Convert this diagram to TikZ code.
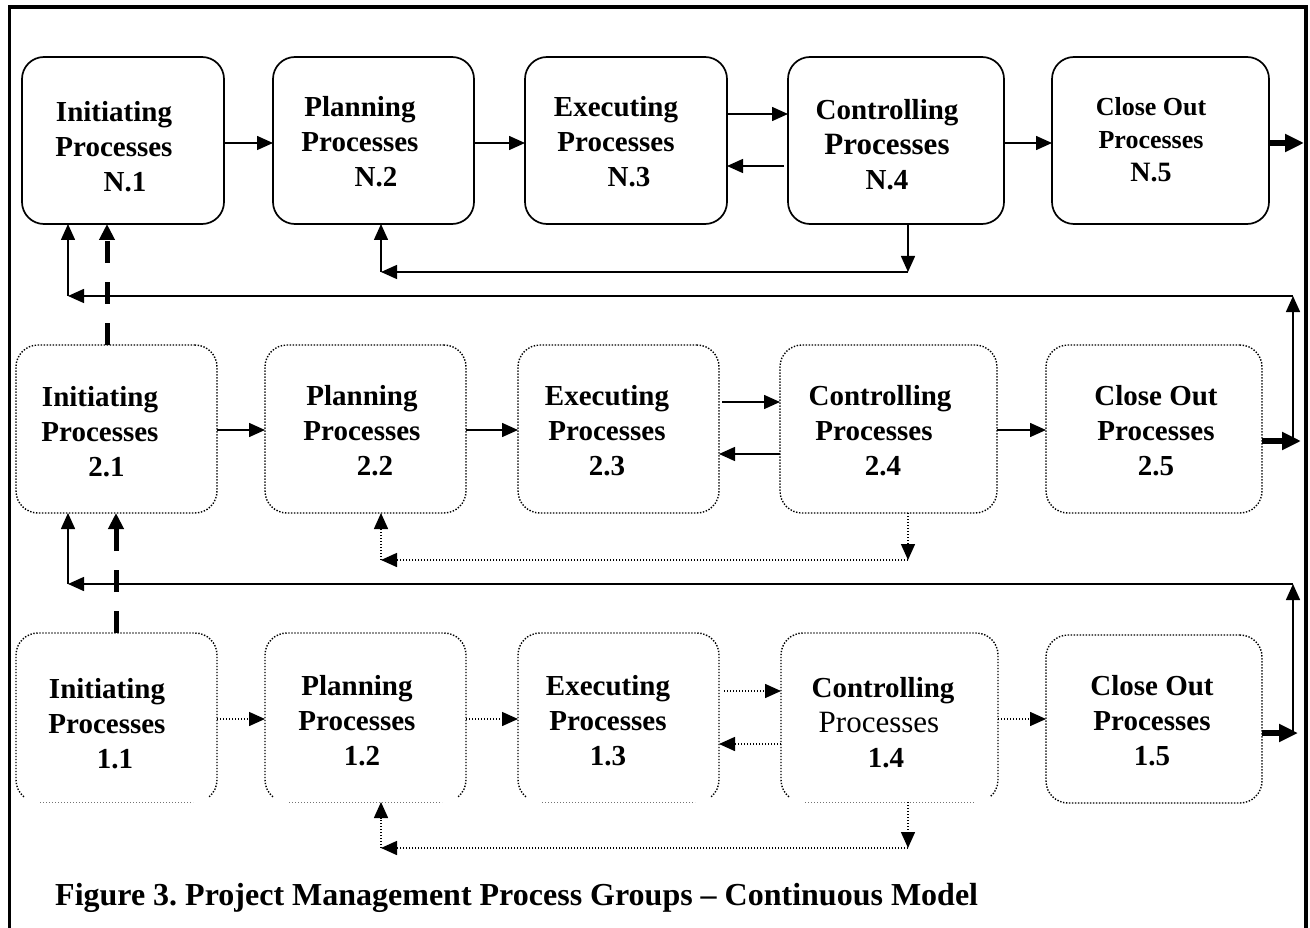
\documentclass[tikz,border=0pt]{standalone}
\usepackage{fontspec}
\setmainfont{Liberation Serif}
\usetikzlibrary{arrows.meta,calc}
\frenchspacing

% bottom-clipped dotted box: the lower corners are only partly drawn
\newcommand\cutbox[1]{%
  \draw[dotline] ($(#1.south west)+(7.9,-5.1)$)
    arc[start angle=130,end angle=180,radius=22]
    -- ($(#1.north west)+(0,22)$)
    arc[start angle=180,end angle=270,radius=22]
    -- ($(#1.north east)+(-22,0)$)
    arc[start angle=270,end angle=360,radius=22]
    -- ($(#1.south east)+(0,-22)$)
    arc[start angle=0,end angle=50,radius=22];
  \draw[faintdot] ($(#1.south west)+(24,0)$) -- ($(#1.south east)+(-24,0)$);}

\begin{document}
\begin{tikzpicture}[x=1pt,y=-1pt,
  solidbox/.style={draw,line width=1.7pt,rounded corners=22pt,inner sep=0pt,outer sep=0pt},
  dotbox/.style={solidbox,line width=1.4pt,dash pattern=on 1.4pt off 1.6pt},
  cutboxnode/.style={inner sep=0pt,outer sep=0pt},
  dotline/.style={line width=1.4pt,dash pattern=on 1.4pt off 1.6pt},
  faintdot/.style={line width=0.9pt,draw=black!55,dash pattern=on 1pt off 2pt},
  % text nodes are placed by the baseline of their last line
  txt/.style={font=\bfseries\fontsize{29}{35}\selectfont,align=center,inner sep=0pt,anchor=base},
  arr/.style={line width=1.5pt,-{Triangle[length=16pt,width=14pt]}},
  dotarr/.style={arr,dash pattern=on 1.4pt off 1.6pt},
  outarr/.style={line width=5.5pt,-{Triangle[length=19pt,width=17pt]}},
  dasharr/.style={line width=5pt,dash pattern=on 22pt off 19pt,-{Triangle[length=16pt,width=15pt]}}
]
\fill[white] (0,0) rectangle (1310,928);
\useasboundingbox (0,0) rectangle (1310,928);

% outer frame (open at the bottom)
\draw[line width=3.5pt] (9.5,928) -- (9.5,7) -- (1306,7) -- (1306,928);

% ---- cycle N ----
\node[solidbox,minimum width=202,minimum height=167] (n1) at (123,140.5) {};
\node[solidbox,minimum width=201,minimum height=167] (n2) at (373.5,140.5) {};
\node[solidbox,minimum width=202,minimum height=167] (n3) at (626,140.5) {};
\node[solidbox,minimum width=216,minimum height=167] (n4) at (896,140.5) {};
\node[solidbox,minimum width=217,minimum height=167] (n5) at (1160.5,140.5) {};

\node[txt] (tn1) at (114,192) {Initiating\\Processes\\\hspace*{22pt}N.1};
\node[txt] (tn2) at (360,187) {Planning\\Processes\\\hspace*{32pt}N.2};
\node[txt] (tn3) at (616,187) {Executing\\Processes\\\hspace*{26pt}N.3};
\node[txt] (tn4) at (887,190) {Controlling\\{\fontsize{31}{36}\selectfont Processes}\\N.4};
\node[txt,font=\bfseries\fontsize{26}{33}\selectfont] (tn5) at (1151,182) {Close Out\\Processes\\{\fontsize{28}{36}\selectfont N.5}};

% ---- cycle 2 ----
\node[dotbox,minimum width=201,minimum height=168] (b21) at (116.5,429) {};
\node[dotbox,minimum width=201,minimum height=168] (b22) at (365.5,429) {};
\node[dotbox,minimum width=201,minimum height=168] (b23) at (618.5,429) {};
\node[dotbox,minimum width=217,minimum height=168] (b24) at (888.5,429) {};
\node[dotbox,minimum width=216,minimum height=168] (b25) at (1154,429) {};

\node[txt] (t21) at (100,476) {Initiating\\Processes\\\hspace*{13pt}2.1};
\node[txt] (t22) at (362,475) {Planning\\Processes\\\hspace*{26pt}2.2};
\node[txt] (t23) at (607,475) {Executing\\Processes\\2.3};
\node[txt] (t24) at (874,475) {\hspace*{12pt}Controlling\\Processes\hspace*{14pt}\\\hspace*{18pt}2.4};
\node[txt] (t25) at (1156,475) {Close Out\\Processes\\2.5};

% ---- cycle 1 ----
\node[cutboxnode,minimum width=201,minimum height=169] (b11) at (116.5,717.5) {};
\node[cutboxnode,minimum width=201,minimum height=169] (b12) at (365.5,717.5) {};
\node[cutboxnode,minimum width=201,minimum height=169] (b13) at (618.5,717.5) {};
\node[cutboxnode,minimum width=217,minimum height=169] (b14) at (889.5,717.5) {};
\node[dotbox,minimum width=216,minimum height=168] (b15) at (1154,719) {};
\cutbox{b11}\cutbox{b12}\cutbox{b13}\cutbox{b14}

\node[txt] (t11) at (107,768) {Initiating\\Processes\\\hspace*{16pt}1.1};
\node[txt] (t12) at (357,765) {Planning\\Processes\\\hspace*{10pt}1.2};
\node[txt] (t13) at (608,765) {Executing\\Processes\\1.3};
\node[txt] (t14) at (879,767) {\hspace*{8pt}Controlling\\{\mdseries\fontsize{31}{36}\selectfont Processes}\hspace*{12pt}\\\hspace*{14pt}1.4};
\node[txt] (t15) at (1152,765) {Close Out\\Processes\\1.5};

% ---- flow within cycle N ----
\draw[arr] (n1.east |- 0,143) -- (n2.west |- 0,143);
\draw[arr] (n2.east |- 0,143) -- (n3.west |- 0,143);
\draw[arr] (n3.east |- 0,114) -- (n4.west |- 0,114);
\draw[arr] ($(n4.west |- 0,166)+(-4,0)$) -- (n3.east |- 0,166);
\draw[arr] (n4.east |- 0,143) -- (n5.west |- 0,143);
\coordinate (eN) at (1304,143);
\draw[outarr] (n5.east |- eN) -- (eN);
\coordinate (cN4) at (908,272);
\coordinate (cN2) at (381,272);
\draw[arr] (n4.south -| cN4) -- (cN4);
\draw[arr] (cN4) -- (cN2);
\draw[arr] (cN2) -- (n2.south -| cN2);

% ---- flow within cycle 2 ----
\draw[arr] (b21.east |- 0,430) -- (b22.west |- 0,430);
\draw[arr] (b22.east |- 0,430) -- (b23.west |- 0,430);
\draw[arr] ($(b23.east |- 0,402)+(3,0)$) -- (b24.west |- 0,402);
\draw[arr] (b24.west |- 0,454) -- (b23.east |- 0,454);
\draw[arr] (b24.east |- 0,430) -- (b25.west |- 0,430);
\coordinate (e2) at (1301,441);
\draw[outarr] (b25.east |- e2) -- (e2);
\coordinate (c24) at (908,560);
\coordinate (c22) at (381,560);
\draw[dotarr] (b24.south -| c24) -- (c24);
\draw[dotarr] (c24) -- (c22);
\draw[dotarr] (c22) -- (b22.south -| c22);

% ---- flow within cycle 1 ----
\draw[dotarr] (b11.east |- 0,719) -- (b12.west |- 0,719);
\draw[dotarr] (b12.east |- 0,719) -- (b13.west |- 0,719);
\draw[dotarr] ($(b13.east |- 0,691)+(5,0)$) -- (b14.west |- 0,691);
\draw[dotarr] (b14.west |- 0,744) -- (b13.east |- 0,744);
\draw[dotarr] (b14.east |- 0,719) -- (b15.west |- 0,719);
\coordinate (e1) at (1298,733);
\draw[outarr] (b15.east |- e1) -- (e1);
\coordinate (c14) at (908,848);
\coordinate (c12) at (381,848);
\draw[dotarr] (b14.south -| c14) -- (c14);
\draw[dotarr] (c14) -- (c12);
\draw[dotarr] (c12) -- (b12.south -| c12);

% ---- hand-over from one cycle to the next ----
\coordinate (rN) at (1293,296);
\coordinate (lN) at (68,296);
\coordinate (s2) at (1293,441);
\draw[arr] (s2) -- (rN);
\draw[arr] (rN) -- (lN);
\draw[arr] (lN) -- (n1.south -| lN);
\coordinate (r2) at (1293,584);
\coordinate (l2) at (68,584);
\coordinate (s1) at (1293,733);
\draw[arr] (s1) -- (r2);
\draw[arr] (r2) -- (l2);
\draw[arr] (l2) -- (b21.south -| l2);

\coordinate (dN) at (107,0);
\coordinate (d2) at (116,0);
\draw[dasharr] (b21.north -| dN) -- (n1.south -| dN);
\draw[dasharr] (b11.north -| d2) -- (b21.south -| d2);

% caption
\node[anchor=base west,inner sep=0pt,font=\bfseries\fontsize{32}{38}\selectfont] (cap) at (55,905)
  {Figure 3. Project Management Process Groups -- Continuous Model};
\end{tikzpicture}
\end{document}
